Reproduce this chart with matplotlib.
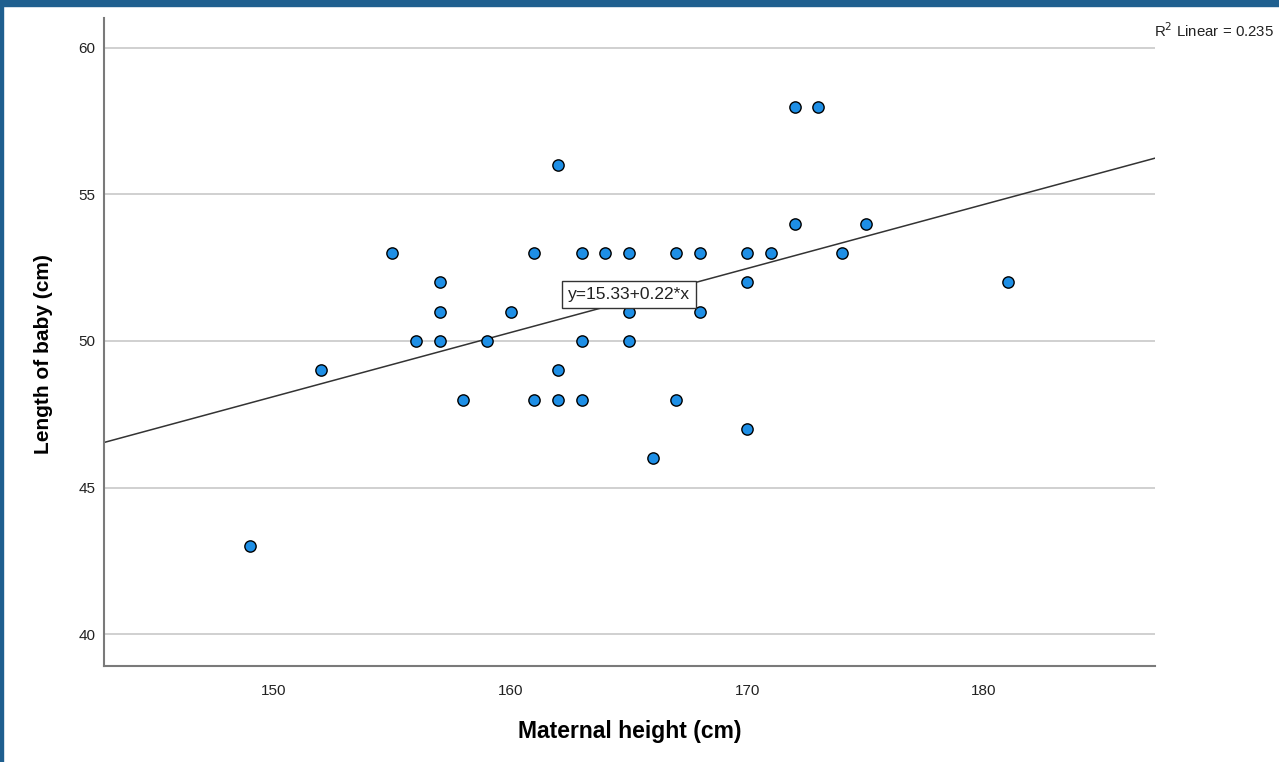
import matplotlib
matplotlib.use("Agg")
import matplotlib.pyplot as plt
from matplotlib.patches import Rectangle

plt.rcParams['font.family'] = ['Liberation Sans', 'DejaVu Sans']

# maternal height (cm) and baby length (cm)
mat_height = [149, 152, 155, 156, 157, 157, 157, 158, 159, 160, 161, 161,
              162, 162, 162, 163, 163, 163, 164, 165, 165, 165, 166, 167,
              167, 168, 168, 170, 170, 170, 171, 172, 172, 173, 174, 175, 181]
baby_length = [43, 49, 53, 50, 52, 51, 50, 48, 50, 51, 53, 48,
               56, 49, 48, 53, 50, 48, 53, 53, 51, 50, 46, 53,
               48, 53, 51, 53, 52, 47, 53, 58, 54, 58, 53, 54, 52]

# fit line (label shows rounded values)
intercept, slope = 15.33, 0.2185
r2_text = "R$^2$ Linear = 0.235"
eq_text = "y=15.33+0.22*x"

W, H = 1279, 762
fig = plt.figure(figsize=(W / 100, H / 100), dpi=100)
fig.patch.set_facecolor("white")

# blue frame at top and left
fig.patches.append(Rectangle((0, 1 - 6 / H), 1, 6 / H, transform=fig.transFigure,
                             color="#1f5f8f", zorder=0))
fig.patches.append(Rectangle((0, 0), 3 / W, 1, transform=fig.transFigure,
                             color="#1f5f8f", zorder=0))

ax = fig.add_axes([104 / W, 96 / H, (1155 - 104) / W, (666 - 18) / H])
xlim = (142.82, 187.22)
ax.set_xlim(*xlim)
ax.set_ylim(38.91, 61.02)

ax.set_yticks([40, 45, 50, 55, 60])
ax.set_xticks([150, 160, 170, 180])
ax.tick_params(length=0, labelsize=11, colors="#222222")
ax.tick_params(axis="x", pad=13)
ax.tick_params(axis="y", pad=6)
ax.grid(axis="y", color="#c8c8c8", linewidth=1.2)
ax.set_axisbelow(True)

for s in ["top", "right"]:
    ax.spines[s].set_visible(False)
for s in ["left", "bottom"]:
    ax.spines[s].set_color("#7a7a7a")
    ax.spines[s].set_linewidth(1.5)

ax.plot(list(xlim), [intercept + slope * v for v in xlim], color="#333333",
        linewidth=1.1, zorder=2)

ax.scatter(mat_height, baby_length, s=66, color="#1e8fe6", edgecolor="black",
           linewidth=1.0, zorder=3)

ax.text(165.0, 51.6, eq_text, ha="center", va="center", fontsize=12.5,
        color="#222222", zorder=4,
        bbox=dict(boxstyle="square,pad=0.35", facecolor="white",
                  edgecolor="#333333", linewidth=1.0))

fig.text(1154 / W, 1 - 31 / H, r2_text, fontsize=10.8, color="#222222",
         ha="left", va="center")

ax.set_xlabel("Maternal height (cm)", fontsize=16.5, fontweight="bold")
ax.set_ylabel("Length of baby (cm)", fontsize=15, fontweight="bold")
ax.xaxis.label.set_va("center")
ax.yaxis.label.set_va("center")
ax.xaxis.set_label_coords(0.5, -0.1014)
ax.yaxis.set_label_coords(-0.0571, 0.481)

fig.savefig("out.png", dpi=100)
